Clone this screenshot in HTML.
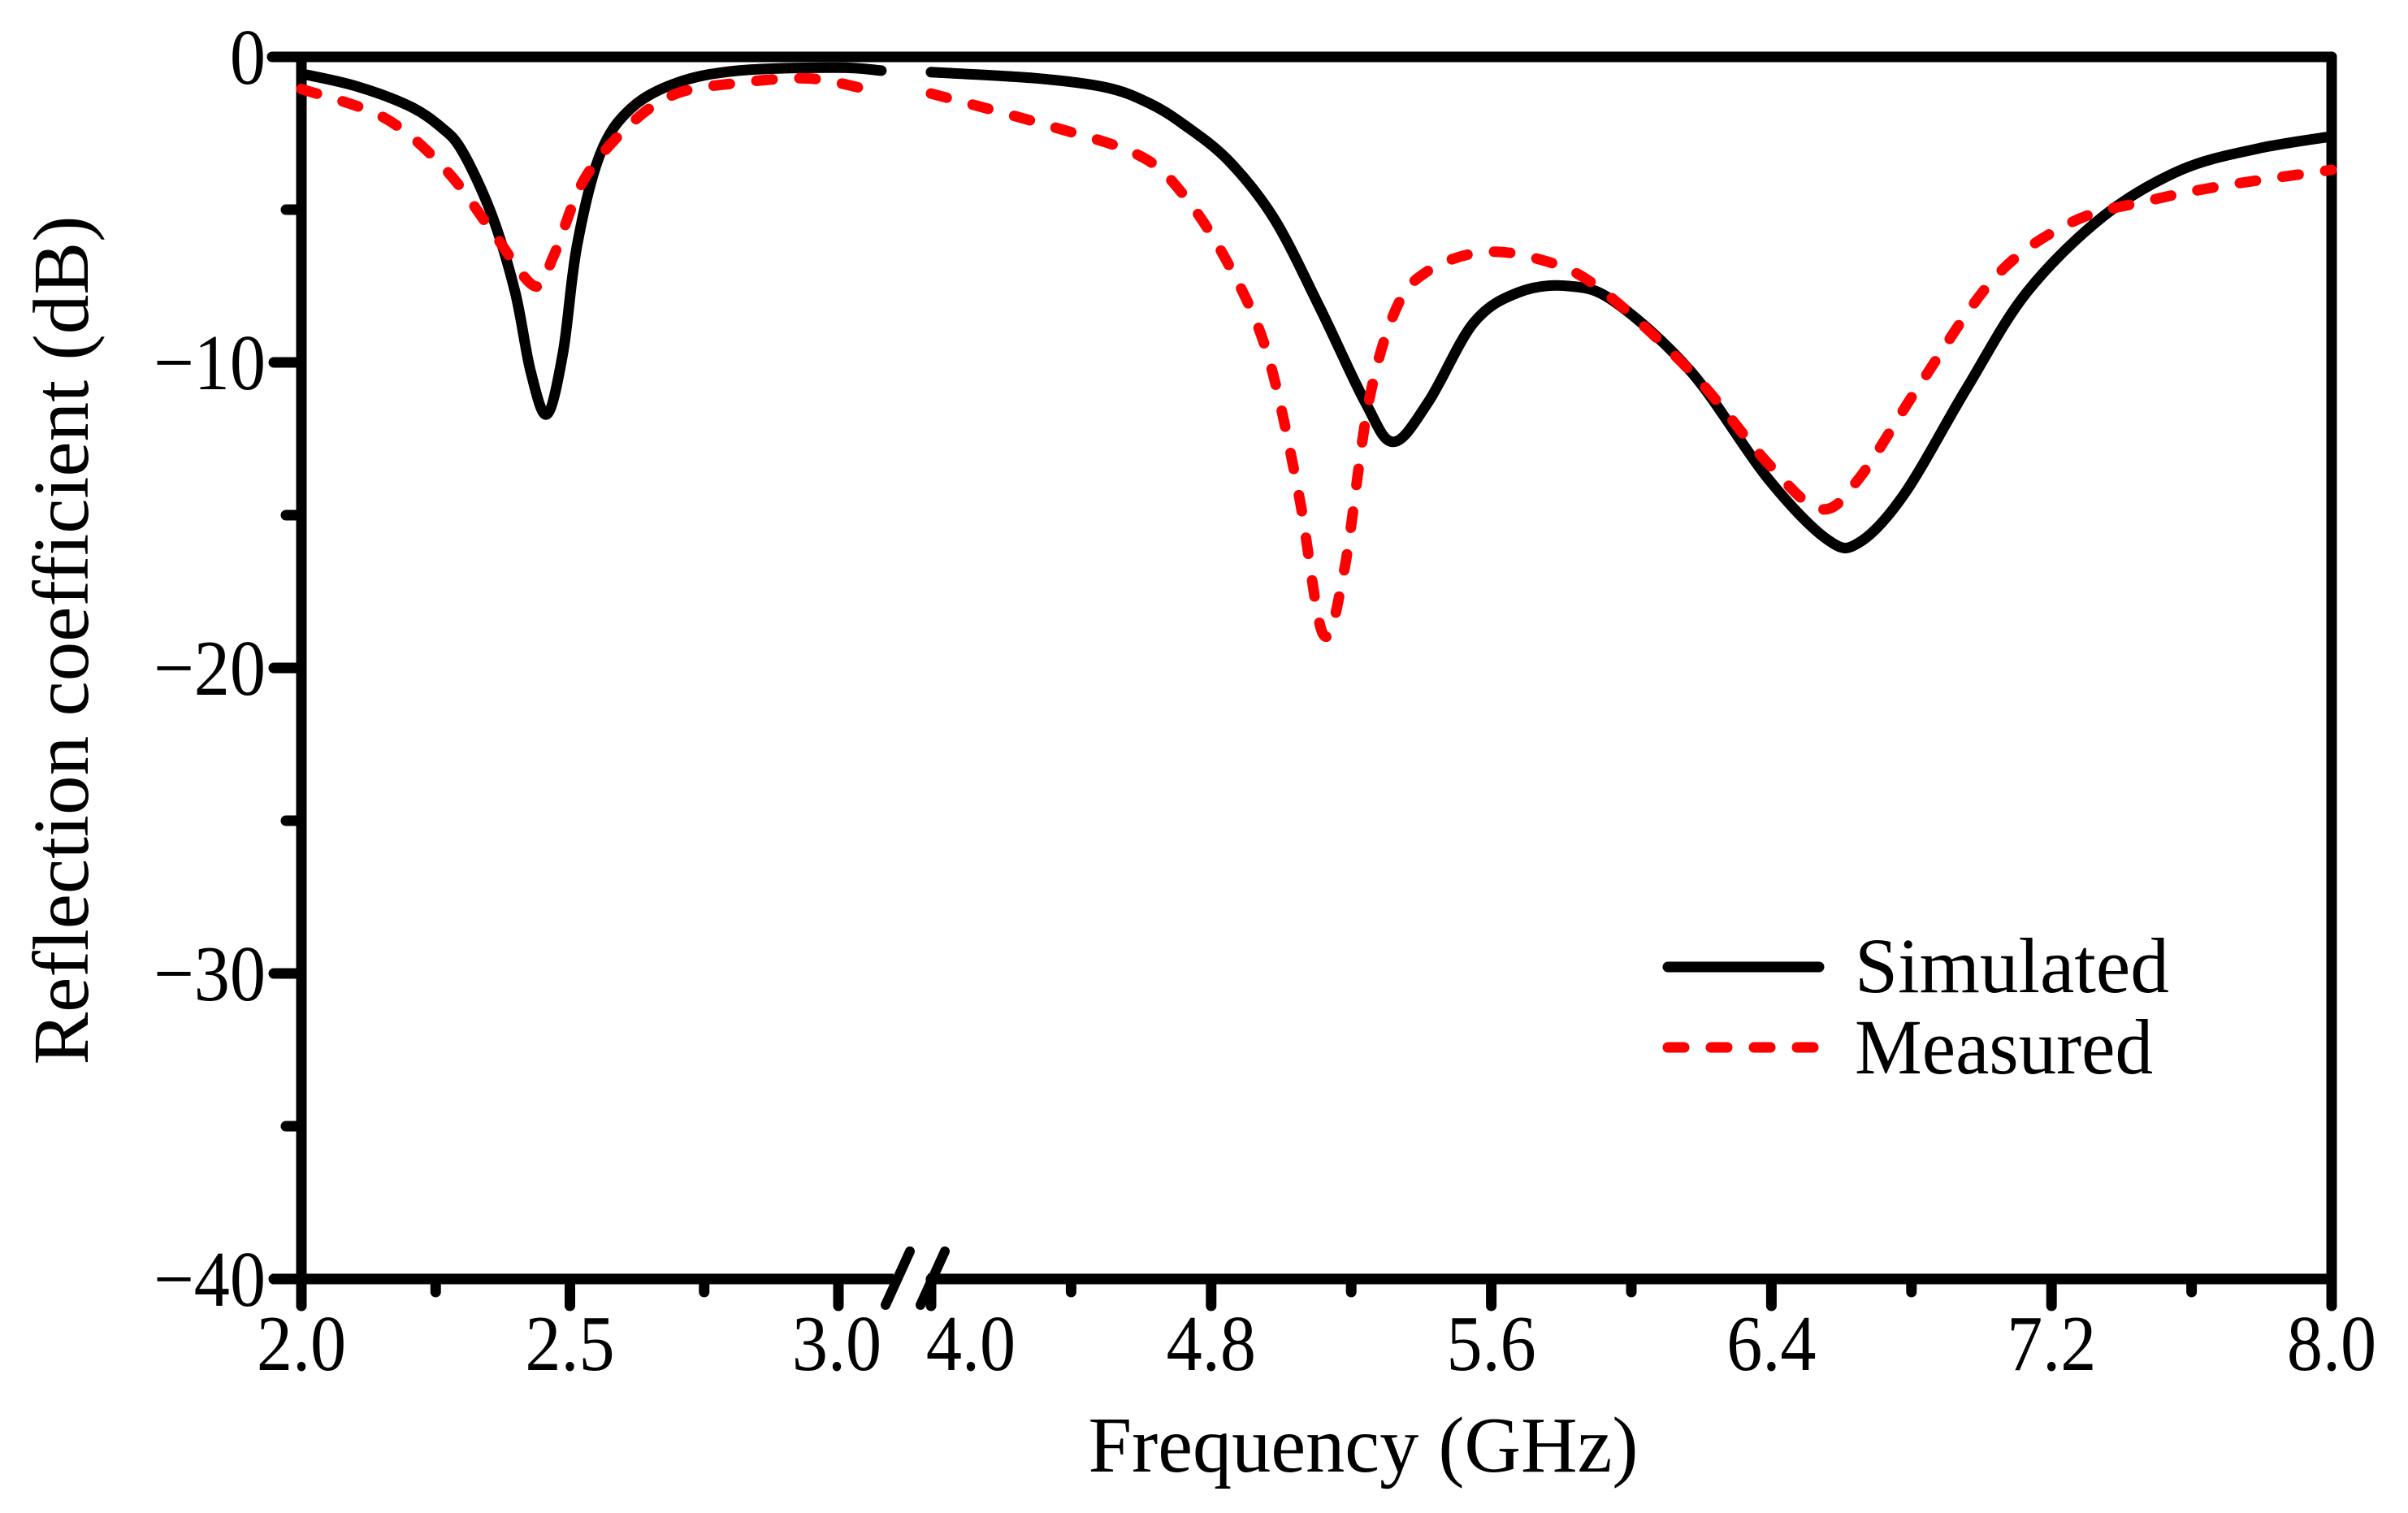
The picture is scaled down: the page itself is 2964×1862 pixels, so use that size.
<!DOCTYPE html>
<html><head><meta charset="utf-8"><style>
html,body{margin:0;padding:0;background:#fff}
svg{display:block}
text{font-family:"Liberation Serif",serif;fill:#000}
</style></head><body>
<svg id="chart" width="2964" height="1862" viewBox="0 0 2964 1862" xmlns="http://www.w3.org/2000/svg">
<g id="axes"></g>
<g id="series"></g>
<g id="legend">
  <line x1="2053" y1="1190" x2="2239" y2="1190" stroke="#000" stroke-width="13" stroke-linecap="round"/>
  <text x="2283" y="1221" font-size="96" textLength="387" lengthAdjust="spacingAndGlyphs">Simulated</text>
  <line x1="2053" y1="1289" x2="2239" y2="1289" stroke="#f00" stroke-width="13" stroke-linecap="round" stroke-dasharray="20,33"/>
  <text x="2283" y="1321" font-size="96" textLength="367" lengthAdjust="spacingAndGlyphs">Measured</text>
</g>
<text x="1678" y="1811" font-size="98" text-anchor="middle" textLength="677" lengthAdjust="spacingAndGlyphs">Frequency (GHz)</text>
<text transform="translate(108,788) rotate(-90)" font-size="98" text-anchor="middle" textLength="1045" lengthAdjust="spacingAndGlyphs">Reflection coefficient (dB)</text>
</svg>
<script>
const yTicks = [0, -10, -20, -30, -40];
const yTickLabels = ["0", "\u221210", "\u221220", "\u221230", "\u221240"];
const yMinorTicks = [-5, -15, -25, -35];
const xTicksLeft = [2.0, 2.5, 3.0];
const xTickLabelsLeft = ["2.0", "2.5", "3.0"];
const xMinorLeft = [2.25, 2.75];
const xTicksRight = [4.0, 4.8, 5.6, 6.4, 7.2, 8.0];
const xTickLabelsRight = ["4.0", "4.8", "5.6", "6.4", "7.2", "8.0"];
const xMinorRight = [4.4, 5.2, 6.0, 6.8, 7.6];

const simLeftX = [2.0, 2.1, 2.2, 2.26, 2.3, 2.355, 2.398, 2.427, 2.457, 2.487, 2.513, 2.556, 2.613, 2.699, 2.814, 3.0, 3.08];
const simLeftY = [-0.55, -0.95, -1.6, -2.3, -3.1, -5.2, -7.7, -10.3, -11.7, -9.7, -6.2, -3.2, -1.7, -0.85, -0.45, -0.35, -0.45];
const measLeftX = [2.0, 2.155, 2.269, 2.355, 2.434, 2.47, 2.527, 2.613, 2.699, 2.814, 2.928, 3.0, 3.08];
const measLeftY = [-1.05, -2.0, -3.7, -5.7, -7.5, -6.5, -4.0, -2.2, -1.2, -0.85, -0.7, -0.85, -1.2];
const simRightX = [4.0, 4.3, 4.5, 4.62, 4.72, 4.85, 4.98, 5.11, 5.24, 5.32, 5.42, 5.55, 5.68, 5.82, 5.95, 6.17, 6.39, 6.56, 6.65, 6.78, 6.96, 7.13, 7.35, 7.57, 7.79, 8.0];
const simRightY = [-0.5, -0.7, -1.0, -1.5, -2.2, -3.4, -5.3, -8.2, -11.3, -12.6, -11.3, -8.7, -7.7, -7.5, -8.0, -10.3, -13.8, -15.8, -15.9, -14.3, -10.8, -7.7, -5.2, -3.7, -3.0, -2.6];
const measRightX = [4.0, 4.32, 4.59, 4.72, 4.85, 4.96, 5.05, 5.12, 5.18, 5.25, 5.33, 5.42, 5.57, 5.73, 5.9, 6.17, 6.39, 6.54, 6.65, 6.82, 7.04, 7.26, 7.48, 7.7, 8.0];
const measRightY = [-1.2, -2.2, -3.2, -4.5, -6.8, -9.7, -14.3, -18.9, -16.8, -11.3, -8.2, -7.0, -6.4, -6.6, -7.5, -10.3, -13.3, -14.8, -13.8, -10.8, -7.2, -5.4, -4.7, -4.2, -3.7];

const L=371, R=2870, T=70, B=1574;
const NS='http://www.w3.org/2000/svg';
function yS(v){return T+(0-v)/40*(B-T);}
function xL(v){return L+(v-2.0)*661;}
function xR(v){return 1146+(v-4.0)*431;}
function mk(tag,attrs,parent){const e=document.createElementNS(NS,tag);for(const k in attrs)e.setAttribute(k,attrs[k]);parent.appendChild(e);return e;}
const axes=document.getElementById('axes');
const series=document.getElementById('series');
const AW=13;
let e;
e=mk('line',{x1:335,y1:T,x2:R,y2:T,stroke:'#000','stroke-width':AW,'stroke-linecap':'round'},axes);


e=mk('line',{x1:L,y1:T,x2:L,y2:1607,stroke:'#000','stroke-width':AW,'stroke-linecap':'round'},axes);


e=mk('line',{x1:R,y1:T,x2:R,y2:1607,stroke:'#000','stroke-width':AW,'stroke-linecap':'round'},axes);


e=mk('line',{x1:335,y1:B,x2:1100,y2:B,stroke:'#000','stroke-width':AW},axes);


e=mk('line',{x1:1142,y1:B,x2:R,y2:B,stroke:'#000','stroke-width':AW},axes);


e=mk('line',{x1:1120,y1:1540,x2:1090,y2:1606,stroke:'#000','stroke-width':12,'stroke-linecap':'round'},axes);


e=mk('line',{x1:1163,y1:1540,x2:1133,y2:1606,stroke:'#000','stroke-width':12,'stroke-linecap':'round'},axes);


yTicks.forEach((v,i)=>{
  const y=yS(v);
  const t=mk('line',{x1:337,y1:y,x2:L,y2:y,stroke:'#000','stroke-width':AW,'stroke-linecap':'round'},axes);
  
  
  const tx=mk('text',{x:0,y:0,'font-size':98,'text-anchor':'end',transform:'translate(327,'+(y+33)+') scale(0.9,1)'},axes);
  tx.textContent=yTickLabels[i];
  
  
});
yMinorTicks.forEach(v=>{
  const y=yS(v);
  const t=mk('line',{x1:352,y1:y,x2:L,y2:y,stroke:'#000','stroke-width':AW,'stroke-linecap':'round'},axes);
  
  
});
function xTicks(arr,labels,minor,fx,offs){
  arr.forEach((v,i)=>{
    const x=fx(v);
    const t=mk('line',{x1:x,y1:B,x2:x,y2:1607,stroke:'#000','stroke-width':AW,'stroke-linecap':'round'},axes);
    
    
    const tx=mk('text',{x:0,y:0,'font-size':98,'text-anchor':'middle',transform:'translate('+(x+(offs[i]||0))+',1686) scale(0.9,1)'},axes);
    tx.textContent=labels[i];
    
    
  });
  minor.forEach(v=>{
    const x=fx(v);
    const t=mk('line',{x1:x,y1:B,x2:x,y2:1590,stroke:'#000','stroke-width':AW,'stroke-linecap':'round'},axes);
    
    
  });
}
xTicks(xTicksLeft,xTickLabelsLeft,xMinorLeft,xL,[0,0,-2]);
xTicks(xTicksRight,xTickLabelsRight,xMinorRight,xR,[49,0,0,0,0,0]);
function pathD(xs,ys,fx){
  const p=xs.map((v,i)=>[fx(v),yS(ys[i])]);
  let d='M'+p[0][0].toFixed(1)+','+p[0][1].toFixed(1);
  for(let i=0;i<p.length-1;i++){
    const p0=p[i-1]||p[i],p1=p[i],p2=p[i+1],p3=p[i+2]||p[i+1];
    const k=1/6;
    const c1=[p1[0]+(p2[0]-p0[0])*k,p1[1]+(p2[1]-p0[1])*k];
    const c2=[p2[0]-(p3[0]-p1[0])*k,p2[1]-(p3[1]-p1[1])*k];
    d+='C'+c1.map(n=>n.toFixed(1)).join(',')+' '+c2.map(n=>n.toFixed(1)).join(',')+' '+p2[0].toFixed(1)+','+p2[1].toFixed(1);
  }
  return d;
}
function line(xs,ys,fx,color,dash,name){
  const a={d:pathD(xs,ys,fx),fill:'none',stroke:color,'stroke-width':13,'stroke-linecap':'round','stroke-linejoin':'round'};
  if(dash)a['stroke-dasharray']=dash;
  const p=mk('path',a,series);
  
  
}
line(simLeftX,simLeftY,xL,'#000',null,'simulated-line-left');
line(simRightX,simRightY,xR,'#000',null,'simulated-line-right');
line(measLeftX,measLeftY,xL,'#f00','20,33','measured-line-left');
line(measRightX,measRightY,xR,'#f00','20,33','measured-line-right');
</script>
</body></html>
